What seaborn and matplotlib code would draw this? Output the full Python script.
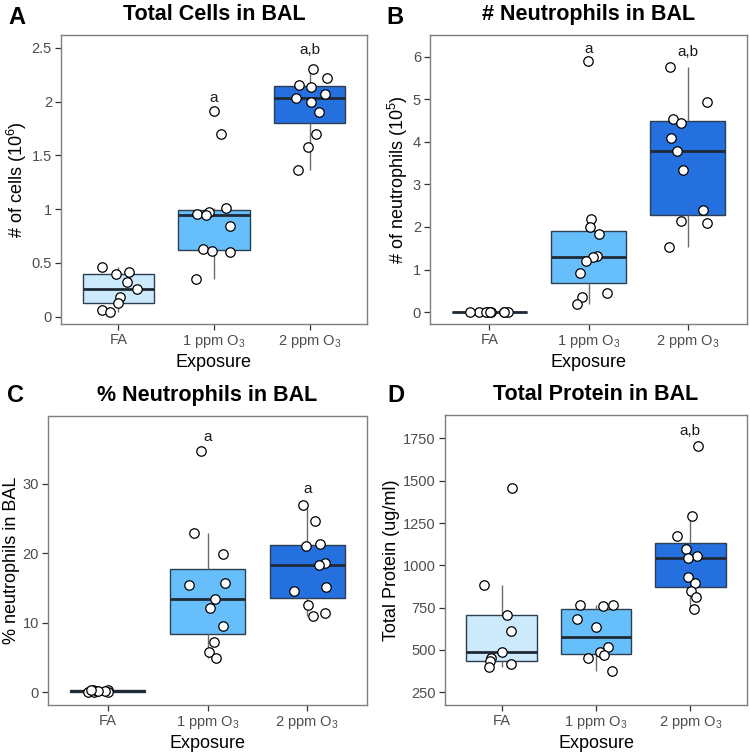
import numpy as np
import pandas as pd
import matplotlib
matplotlib.use("Agg")
import matplotlib.pyplot as plt
import seaborn as sns

# ---------------- data ----------------
groups = ["FA", "1 ppm O$_3$", "2 ppm O$_3$"]
palette_colors = ["#cde9fc", "#66bffb", "#2470de"]

cells_fa = [0.465, 0.42, 0.395, 0.32, 0.26, 0.186, 0.124, 0.062, 0.046]
cells_1 = [1.915, 1.695, 1.007, 0.976, 0.957, 0.95, 0.84, 0.626, 0.613, 0.598, 0.353]
cells_2 = [2.30, 2.22, 2.157, 2.14, 2.075, 2.03, 2.0, 1.90, 1.70, 1.58, 1.36]

neut_fa = [0, 0, 0, 0, 0, 0, 0, 0, 0]
neut_1 = [5.89, 2.19, 2.0, 1.825, 1.32, 1.30, 1.19, 0.924, 0.454, 0.36, 0.18]
neut_2 = [5.765, 4.93, 4.54, 4.44, 4.08, 3.78, 3.33, 2.40, 2.15, 2.10, 1.54]

pct_fa = [0.0, 0.35, 0.05, 0.3, 0.1, 0.2, 0.15, 0.25, 0.3]
pct_1 = [34.7, 23.0, 19.85, 15.7, 15.4, 13.5, 12.1, 9.54, 7.19, 5.85, 4.89]
pct_2 = [26.9, 24.6, 21.4, 21.0, 18.64, 18.35, 15.14, 14.52, 12.55, 11.36, 11.02]

prot_fa = [1458, 885, 706, 614, 490, 453, 437, 417, 400]
prot_1 = [765, 760, 765, 683, 636, 520, 490, 470, 451, 374]
prot_2 = [1707, 1289, 1173, 1096, 1055, 1045, 933, 896, 848, 811, 742]

titles = ["Total Cells in BAL", "# Neutrophils in BAL", "% Neutrophils in BAL", "Total Protein in BAL"]
panel_letters = ["A", "B", "C", "D"]
ylabels = ["# of cells (10$^6$)", "# of neutrophils (10$^5$)", "% neutrophils in BAL", "Total Protein (ug/ml)"]
yticks_list = [[0, 0.5, 1, 1.5, 2, 2.5], [0, 1, 2, 3, 4, 5, 6], [0, 10, 20, 30], [250, 500, 750, 1000, 1250, 1500, 1750]]
ytick_labels = [["0", "0.5", "1", "1.5", "2", "2.5"], ["0", "1", "2", "3", "4", "5", "6"],
                ["0", "10", "20", "30"], ["250", "500", "750", "1000", "1250", "1500", "1750"]]
ylims = [(-0.068, 2.62), (-0.28, 6.51), (-1.82, 39.77), (175, 1888)]

# significance letters: (group index, y value, text)
sig_A = [(1, 2.035, "a"), (2, 2.48, "a,b")]
sig_B = [(1, 6.17, "a"), (2, 6.12, "a,b")]
sig_C = [(1, 36.75, "a"), (2, 29.2, "a")]
sig_D = [(2, 1795, "a,b")]

datasets = [(cells_fa, cells_1, cells_2), (neut_fa, neut_1, neut_2),
            (pct_fa, pct_1, pct_2), (prot_fa, prot_1, prot_2)]
sigs = [sig_A, sig_B, sig_C, sig_D]

# ---------------- style ----------------
sns.set_theme(style="white")
plt.rcParams["font.family"] = ["Liberation Sans", "DejaVu Sans"]
plt.rcParams["mathtext.fontset"] = "custom"
plt.rcParams["mathtext.rm"] = "Liberation Sans"
plt.rcParams["mathtext.it"] = "Liberation Sans:italic"
plt.rcParams["mathtext.bf"] = "Liberation Sans:bold"
plt.rcParams["text.color"] = "black"
plt.rcParams["axes.labelcolor"] = "black"
plt.rcParams["axes.titlecolor"] = "black"

W, H = 750, 753
fig = plt.figure(figsize=(W / 100, H / 100), dpi=100)

# axes boxes in pixels: left, right, top, bottom
boxes = [(61, 367, 35, 324), (430, 747, 35, 324), (48, 367, 416, 705), (445, 747, 415, 705)]
letter_pos = [(17, 18), (395, 18), (15, 396), (396, 395)]

for i in range(4):
    l, r, t, b = boxes[i]
    ax = fig.add_axes([l / W, 1 - b / H, (r - l) / W, (b - t) / H])
    fa, g1, g2 = datasets[i]
    df = pd.DataFrame({
        "Exposure": [groups[0]] * len(fa) + [groups[1]] * len(g1) + [groups[2]] * len(g2),
        "value": list(fa) + list(g1) + list(g2),
    })
    sns.boxplot(data=df, x="Exposure", y="value", hue="Exposure", order=groups, hue_order=groups,
                palette=palette_colors, saturation=1, legend=False, width=0.75, showfliers=False,
                showcaps=False, linewidth=1.0, linecolor="#2d3e50", ax=ax,
                boxprops=dict(edgecolor="#2d3e50", linewidth=1.0),
                medianprops=dict(color="#1f2a36", linewidth=2.0),
                whiskerprops=dict(color="#6b6b6b", linewidth=1.0))
    np.random.seed(7 + i)
    sns.stripplot(data=df, x="Exposure", y="value", order=groups, jitter=0.2, color="white",
                  edgecolor="black", linewidth=0.9, size=6.8, ax=ax, zorder=4)
    for gi, yv, txt in sigs[i]:
        ax.text(gi, yv, txt, ha="center", va="center", fontsize=11, color="#1a1a1a")
    ax.set_xlim(-0.6, 2.6)
    ax.set_ylim(*ylims[i])
    ax.set_yticks(yticks_list[i])
    ax.set_yticklabels(ytick_labels[i])
    ax.set_xticks([0, 1, 2])
    ax.set_xticklabels(groups)
    ax.tick_params(axis="both", labelsize=10.5, labelcolor="#4d4d4d", color="#333333",
                   length=4, width=0.9, bottom=True, left=True, pad=2.5)
    ax.set_xlabel("Exposure", fontsize=13, color="black", labelpad=3)
    ax.set_ylabel(ylabels[i], fontsize=13, color="black", labelpad=2)
    ax.set_title(titles[i], fontsize=15.5, fontweight="bold", pad=11, color="black")
    for sp in ax.spines.values():
        sp.set_color("#7f7f7f")
        sp.set_linewidth(1.0)
    lx, ly = letter_pos[i]
    fig.text(lx / W, 1 - ly / H, panel_letters[i], fontsize=17, fontweight="bold",
             ha="center", va="center", color="black")

fig.savefig("out.png", dpi=100)
